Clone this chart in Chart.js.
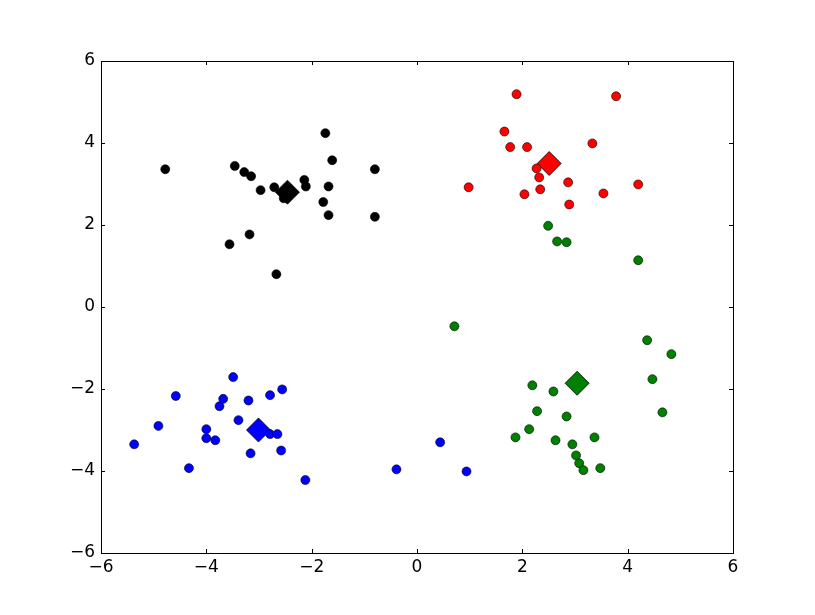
<!DOCTYPE html>
<html>
<head>
<meta charset="utf-8">
<script src="https://cdn.jsdelivr.net/npm/chart.js@4/dist/chart.umd.min.js"></script>
<style>
  body { margin: 0; background: #fff; }
  canvas { display: block; }
</style>
</head>
<body>
<canvas id="kmeansChart" width="815" height="615"></canvas>
<script>
// cluster points
const blackX = [-4.78, -3.46, -3.28, -3.15, -2.97, -2.71, -2.53, -2.14, -2.11, -1.74, -1.61, -1.68, -1.78, -1.68, -0.80, -0.80, -3.18, -3.56, -2.67];
const blackY = [3.36, 3.44, 3.29, 3.19, 2.85, 2.92, 2.65, 3.10, 2.94, 4.24, 3.58, 2.94, 2.56, 2.24, 3.36, 2.20, 1.77, 1.53, 0.80];

const redX = [1.89, 3.78, 1.66, 1.77, 2.09, 3.33, 2.27, 2.32, 2.34, 2.04, 0.98, 2.87, 2.89, 3.54, 4.20];
const redY = [5.19, 5.14, 4.28, 3.90, 3.90, 3.99, 3.38, 3.16, 2.87, 2.75, 2.92, 3.04, 2.50, 2.77, 2.99];

const greenX = [2.49, 2.66, 2.84, 4.20, 0.71, 4.37, 4.83, 4.47, 4.66, 2.19, 2.59, 2.28, 2.84, 2.13, 1.87, 2.63, 2.95, 3.37, 3.02, 3.08, 3.16, 3.48];
const greenY = [1.98, 1.60, 1.58, 1.14, -0.47, -0.81, -1.15, -1.76, -2.57, -1.91, -2.06, -2.54, -2.67, -2.98, -3.18, -3.25, -3.35, -3.18, -3.62, -3.81, -3.98, -3.93];

const blueX = [-3.49, -4.58, -2.56, -2.79, -3.20, -3.68, -3.75, -3.39, -2.79, -2.65, -4.91, -4.00, -4.00, -3.83, -5.37, -3.16, -2.58, -4.33, -2.12, -0.39, 0.44, 0.94];
const blueY = [-1.71, -2.17, -2.01, -2.15, -2.28, -2.24, -2.42, -2.76, -3.10, -3.10, -2.90, -2.98, -3.20, -3.25, -3.35, -3.57, -3.50, -3.93, -4.22, -3.96, -3.30, -4.01];

// centroids (diamonds)
const clusterNames = ['black', 'red', 'green', 'blue'];
const clusterColors = ['#000000', '#ff0000', '#008000', '#0000ff'];
const centroidX = [-2.46, 2.51, 3.04, -3.01];
const centroidY = [2.80, 3.50, -1.86, -3.00];

const tickValues = [-6, -4, -2, 0, 2, 4, 6];
const tickLabels = ['\u22126', '\u22124', '\u22122', '0', '2', '4', '6'];

const toPoints = (xs, ys) => xs.map((x, i) => ({ x: x, y: ys[i] }));

const clusterPoints = [
    toPoints(blackX, blackY),
    toPoints(redX, redY),
    toPoints(greenX, greenY),
    toPoints(blueX, blueY)
];

const datasets = [];
clusterNames.forEach((name, i) => {
    datasets.push({
        label: name,
        data: clusterPoints[i],
        backgroundColor: clusterColors[i],
        borderColor: '#000',
        borderWidth: 0.6,
        pointRadius: 4.5,
        pointHoverRadius: 4.5
    });
});
clusterNames.forEach((name, i) => {
    datasets.push({
        label: name + ' centroid',
        data: [{ x: centroidX[i], y: centroidY[i] }],
        backgroundColor: clusterColors[i],
        borderColor: '#000',
        borderWidth: 0.8,
        pointStyle: 'rectRot',
        pointRadius: 12,
        pointHoverRadius: 12
    });
});

// matplotlib style frame with inward ticks on all four sides
const frameTicks = {
    id: 'frameTicks',
    afterDatasetsDraw(chart) {
        const { ctx, chartArea: a, scales } = chart;
        ctx.save();
        ctx.strokeStyle = '#000';
        ctx.lineWidth = 1;
        ctx.beginPath();
        for (const v of tickValues) {
            const px = Math.round(scales.x.getPixelForValue(v)) + 0.5;
            ctx.moveTo(px, a.bottom);
            ctx.lineTo(px, a.bottom - 4);
            ctx.moveTo(px, a.top);
            ctx.lineTo(px, a.top + 4);
            const py = Math.round(scales.y.getPixelForValue(v)) + 0.5;
            ctx.moveTo(a.left, py);
            ctx.lineTo(a.left + 4, py);
            ctx.moveTo(a.right, py);
            ctx.lineTo(a.right - 4, py);
        }
        ctx.stroke();
        ctx.strokeRect(a.left + 0.5, a.top + 0.5, a.right - a.left, a.bottom - a.top);
        ctx.restore();
    }
};

const tickFont = { family: 'DejaVu Sans', size: 17 };

const ctx = document.getElementById('kmeansChart').getContext('2d');
const chart = new Chart(ctx, {
    type: 'scatter',
    data: { datasets: datasets },
    options: {
        responsive: false,
        animation: false,
        layout: { padding: { left: 0, right: 82, top: 61, bottom: 0 } },
        plugins: {
            legend: { display: false },
            tooltip: { enabled: false }
        },
        scales: {
            x: {
                min: -6,
                max: 6,
                grid: { display: false, drawTicks: false },
                border: { display: false },
                afterFit: (scale) => { scale.height = 62; },
                ticks: {
                    stepSize: 2,
                    padding: 4,
                    maxRotation: 0,
                    color: '#000',
                    font: tickFont,
                    callback: (v) => tickLabels[tickValues.indexOf(v)]
                }
            },
            y: {
                min: -6,
                max: 6,
                grid: { display: false, drawTicks: false },
                border: { display: false },
                afterFit: (scale) => { scale.width = 101; },
                ticks: {
                    stepSize: 2,
                    padding: 6,
                    color: '#000',
                    font: tickFont,
                    callback: (v) => tickLabels[tickValues.indexOf(v)]
                }
            }
        }
    },
    plugins: [frameTicks]
});
</script>
</body>
</html>
